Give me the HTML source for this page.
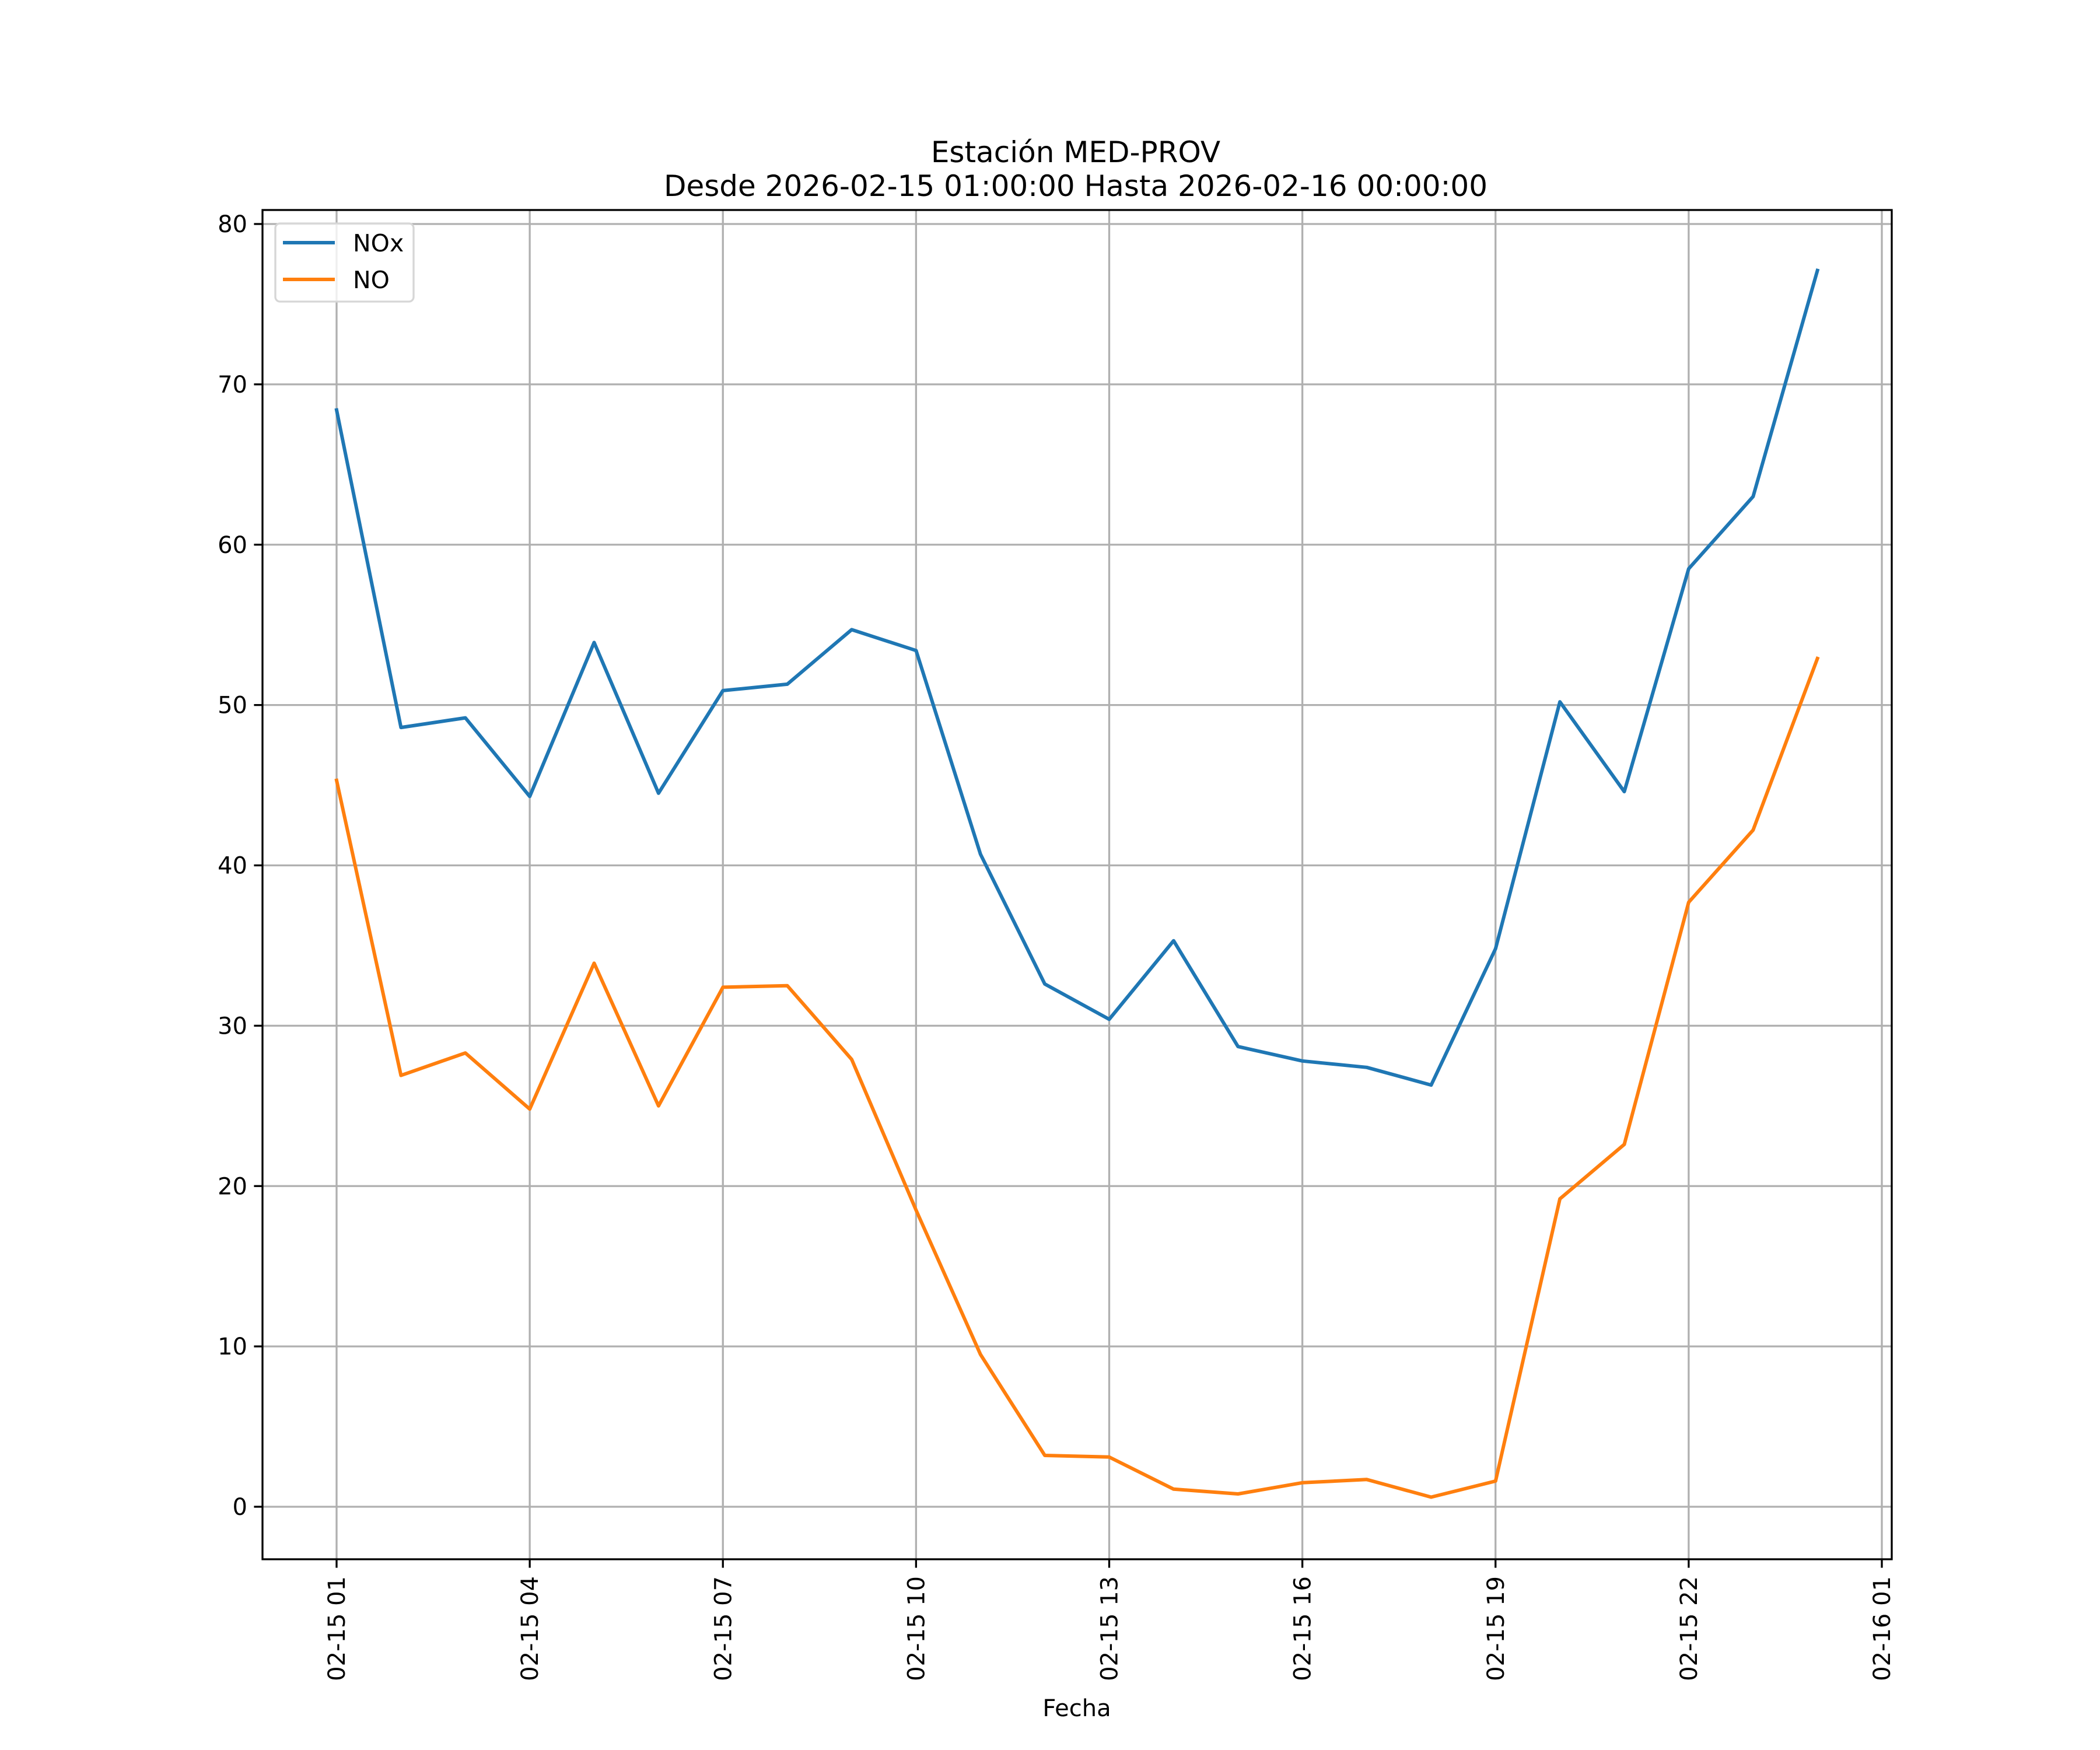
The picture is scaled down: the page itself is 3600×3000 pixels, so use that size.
<!DOCTYPE html>
<html><head><meta charset="utf-8"><style>
html,body{margin:0;padding:0;background:#fff;}
svg{display:block;font-family:"DejaVu Sans","Liberation Sans",sans-serif;}
</style></head><body>
<svg id="chart" width="3600" height="3000" viewBox="0 0 3600 3000">
<g id="grid"></g>
<g id="series"></g>
<rect x="450" y="360" width="2793" height="2313" fill="none" stroke="#000" stroke-width="3.3"/>
<g id="ticks"></g>
<text x="1844" y="278" font-size="50" text-anchor="middle">Estación MED-PROV</text>
<text x="1844" y="336" font-size="50" text-anchor="middle">Desde 2026-02-15 01:00:00 Hasta 2026-02-16 00:00:00</text>
<text x="1846" y="2942" font-size="40" text-anchor="middle">Fecha</text>
<g>
<rect x="472" y="383" width="237" height="134" rx="8" fill="#fff" fill-opacity="0.8" stroke="#d6d6d6" stroke-width="3.3"/>
<line x1="485" y1="416" x2="574" y2="416" stroke="#1f77b4" stroke-width="6"/>
<text x="605" y="431" font-size="41">NOx</text>
<line x1="485" y1="479" x2="574" y2="479" stroke="#ff7f0e" stroke-width="6"/>
<text x="605" y="494" font-size="41">NO</text>
</g>
</svg>
<script>
const hours = [1,2,3,4,5,6,7,8,9,10,11,12,13,14,15,16,17,18,19,20,21,22,23,24];
const noxValues = [68.4,48.6,49.2,44.3,53.9,44.5,50.9,51.3,54.7,53.4,40.7,32.6,30.4,35.3,28.7,27.8,27.4,26.3,34.8,50.2,44.6,58.5,63.0,77.1];
const noValues = [45.3,26.9,28.3,24.8,33.9,25.0,32.4,32.5,27.9,18.5,9.5,3.2,3.1,1.1,0.8,1.5,1.7,0.6,1.6,19.2,22.6,37.7,42.2,52.9];
const yTicks = [0,10,20,30,40,50,60,70,80];
const xTickHours = [1,4,7,10,13,16,19,22,25];
const xTickLabels = ["02-15 01","02-15 04","02-15 07","02-15 10","02-15 13","02-15 16","02-15 19","02-15 22","02-16 01"];

const NS = "http://www.w3.org/2000/svg";
const L=450,R=3243,T=360,B=2673;
function xs(h){return 577 + (h-1)*(3226-577)/24;}
function ys(v){return 2583 - v*(2583-384)/80;}
function mk(tag, attrs, parent){const e=document.createElementNS(NS,tag);for(const k in attrs)e.setAttribute(k,attrs[k]);parent.appendChild(e);return e;}
const grid=document.getElementById('grid'), ticks=document.getElementById('ticks'), series=document.getElementById('series');

yTicks.forEach(v=>{
  const y=ys(v);
  const g=mk('line',{x1:L,x2:R,y1:y,y2:y,stroke:'#b0b0b0','stroke-width':3.3},grid);
  
  
  const t=mk('line',{x1:L-14.6,x2:L,y1:y,y2:y,stroke:'#000','stroke-width':3.3},ticks);
  
  
  const tx=mk('text',{x:L-26,y:y+14,'font-size':40,'text-anchor':'end'},ticks);
  tx.textContent=v;
  
  
});
xTickHours.forEach((h,i)=>{
  const x=xs(h);
  const g=mk('line',{x1:x,x2:x,y1:T,y2:B,stroke:'#b0b0b0','stroke-width':3.3},grid);
  
  
  const t=mk('line',{x1:x,x2:x,y1:B,y2:B+14.6,stroke:'#000','stroke-width':3.3},ticks);
  
  
  const tx=mk('text',{x:0,y:0,'font-size':40,'text-anchor':'end',transform:`translate(${x+14},${B+29}) rotate(-90)`},ticks);
  tx.textContent=xTickLabels[i];
  
  
});
function drawLine(vals,color,name){
  const pts=vals.map((v,i)=>xs(hours[i]).toFixed(1)+','+ys(v).toFixed(1)).join(' ');
  const p=mk('polyline',{points:pts,fill:'none',stroke:color,'stroke-width':6,'stroke-linejoin':'round','stroke-linecap':'square'},series);
  
  
}
drawLine(noxValues,'#1f77b4','nox-line');
drawLine(noValues,'#ff7f0e','no-line');
</script>
</body></html>
